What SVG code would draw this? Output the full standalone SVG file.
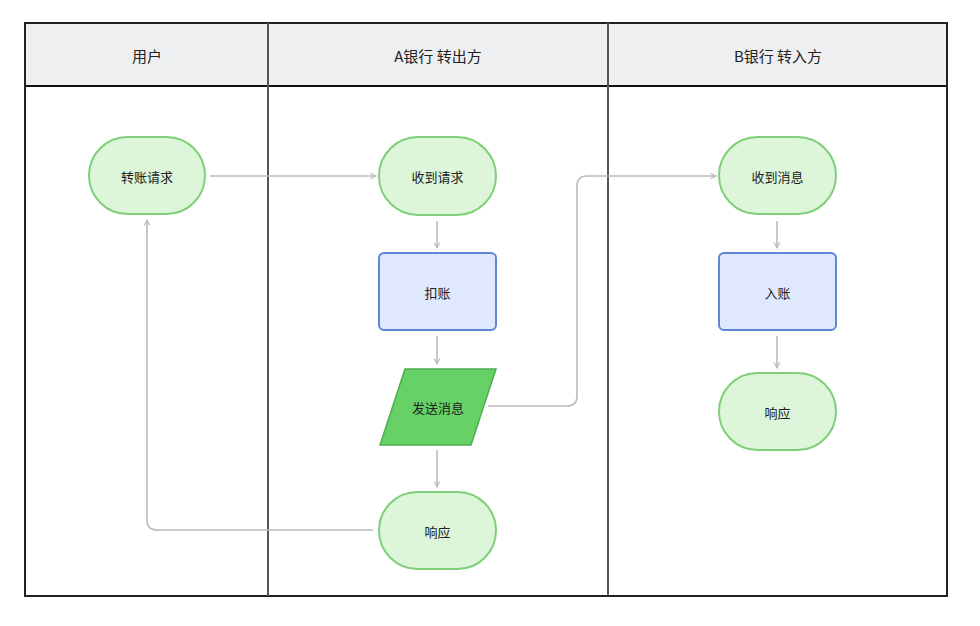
<svg xmlns="http://www.w3.org/2000/svg" width="980" height="626" viewBox="0 0 980 626">
<defs>
<style>
.hdr{fill:#eeeff1}
.lane{fill:none;stroke:#222;stroke-width:2}
.div{stroke:#555;stroke-width:2}
.term{fill:#ddf5d9;stroke:#7fcf78;stroke-width:2}
.proc{fill:#dfe8fc;stroke:#5f86d8;stroke-width:2}
.io{fill:#66d166;stroke:#4fae4f;stroke-width:1.5}
.t{font-family:"Noto Sans CJK SC","Noto Sans",sans-serif;font-size:13px;fill:#222;text-anchor:middle;dominant-baseline:central}
.h{font-family:"Noto Sans CJK SC","Noto Sans",sans-serif;font-size:15px;fill:#222;text-anchor:middle;dominant-baseline:central}
.c{fill:none;stroke:#bbbbbb;stroke-width:1.6;marker-end:url(#arr)}
</style>
<marker id="arr" viewBox="0 0 10 10" refX="9" refY="5" markerWidth="7" markerHeight="7" markerUnits="userSpaceOnUse" orient="auto">
<path d="M1,1 L9,5 L1,9" fill="none" stroke="#bbbbbb" stroke-width="1.6"/>
</marker>
</defs>
<rect width="980" height="626" fill="#ffffff"/>
<g id="lanes">
<rect class="hdr" x="25" y="23" width="922" height="63"/>
<line x1="25" y1="86" x2="947" y2="86" stroke="#111" stroke-width="2"/>
<rect class="lane" x="25" y="23" width="922" height="573"/>
<line class="div" x1="268" y1="23" x2="268" y2="596"/>
<line class="div" x1="608" y1="23" x2="608" y2="596" stroke="#111"/>
<text class="h" x="147" y="55">用户</text>
<text class="h" x="438" y="55">A银行 转出方</text>
<text class="h" x="778" y="55">B银行 转入方</text>
</g>
<g id="connectors">
<path class="c" d="M210,176 L376,176"/>
<path class="c" d="M437,221 L437,248"/>
<path class="c" d="M437,336 L437,364"/>
<path class="c" d="M437,450 L437,487"/>
<path class="c" d="M488,406 L567,406 Q577,406 577,396 L577,186 Q577,176 587,176 L716,176"/>
<path class="c" d="M373,530 L157,530 Q147,530 147,520 L147,220"/>
<path class="c" d="M777,221 L777,248"/>
<path class="c" d="M777,336 L777,368"/>
</g>
<g id="n1"><rect class="term" x="89" y="137" width="116" height="77" rx="38.5"/><text class="t" x="147" y="176">转账请求</text></g>
<g id="n2"><rect class="term" x="379" y="137" width="117" height="78" rx="39"/><text class="t" x="437.5" y="176">收到请求</text></g>
<g id="n3"><rect class="proc" x="379" y="253" width="117" height="77" rx="5"/><text class="t" x="437.5" y="292">扣账</text></g>
<g id="n4"><polygon class="io" points="405,369 496,369 471,445 380,445"/><text class="t" x="438" y="407">发送消息</text></g>
<g id="n5"><rect class="term" x="379" y="492" width="117" height="77" rx="38.5"/><text class="t" x="437.5" y="531">响应</text></g>
<g id="n6"><rect class="term" x="719" y="137" width="117" height="77" rx="38.5"/><text class="t" x="777.5" y="176">收到消息</text></g>
<g id="n7"><rect class="proc" x="719" y="253" width="117" height="77" rx="5"/><text class="t" x="777.5" y="292">入账</text></g>
<g id="n8"><rect class="term" x="719" y="373" width="117" height="77" rx="38.5"/><text class="t" x="777.5" y="412">响应</text></g>
</svg>
